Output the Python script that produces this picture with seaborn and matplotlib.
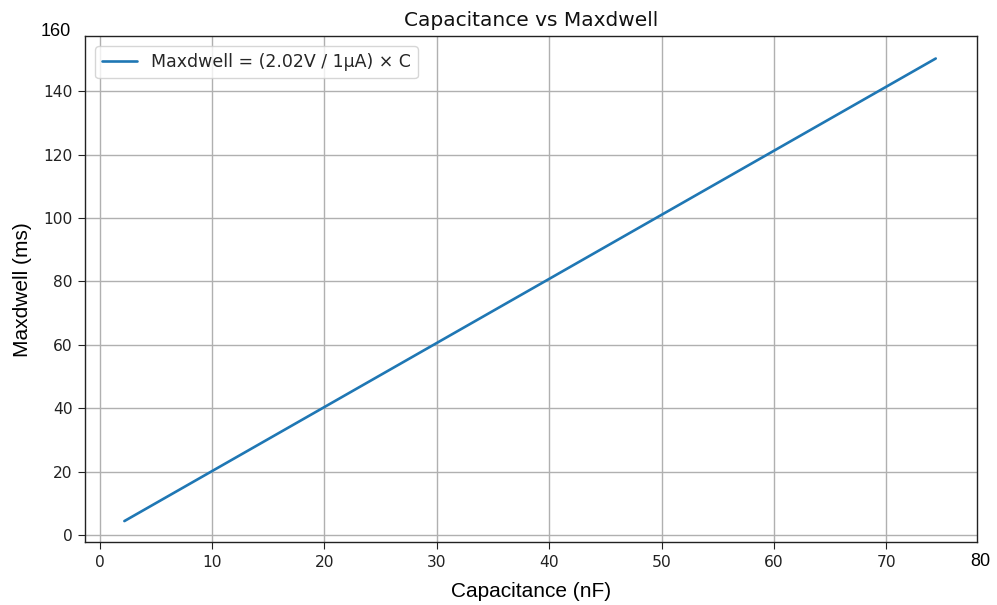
import pandas as pd
import matplotlib
matplotlib.use('Agg')
import matplotlib.pyplot as plt
import seaborn as sns

# Endpoints of the Maxdwell = 2.02 * C line
capacitance_nf = [2.2, 74.4]
maxdwell_ms = [4.4, 150.3]
line_label = 'Maxdwell = (2.02V / 1\u00b5A) \u00d7 C'

df = pd.DataFrame({'Capacitance (nF)': capacitance_nf, 'Maxdwell (ms)': maxdwell_ms})

sns.set_style('ticks')
plt.rcParams['font.family'] = ['DejaVu Sans']

fig = plt.figure(figsize=(9.97, 6.05), dpi=100)
ax = fig.add_axes([0.0853, 0.1036, 0.8944, 0.8369])

sns.lineplot(data=df, x='Capacitance (nF)', y='Maxdwell (ms)', ax=ax,
             color='#1f77b4', linewidth=1.9, label=line_label)

ax.set_xlim(-1.3, 78.05)
ax.set_ylim(-2.3, 157.4)
ax.set_xticks([0, 10, 20, 30, 40, 50, 60, 70])
ax.set_yticks([0, 20, 40, 60, 80, 100, 120, 140])
ax.tick_params(labelsize=11.2, colors='#222222', length=5, pad=4)
ax.grid(True, color='#b0b0b0', linewidth=1.0)
for s in ax.spines.values():
    s.set_color('#222222')
    s.set_linewidth(1.0)

ax.set_title('Capacitance vs Maxdwell', fontsize=14.5, color='#111111', pad=7)
ax.set_xlabel('Capacitance (nF)', fontsize=15, family='Liberation Sans',
              color='black', labelpad=9)
ax.set_ylabel('Maxdwell (ms)', fontsize=15, family='Liberation Sans',
              color='black', labelpad=8)

# end labels drawn in a different font in the original
ax.text(-0.016, 1.008, '160', transform=ax.transAxes, ha='right', va='center',
        fontsize=13, family='Liberation Sans', color='black')
ax.text(1.004, -0.038, '80', transform=ax.transAxes, ha='center', va='center',
        fontsize=13, family='Liberation Sans', color='black')

ax.legend(loc='upper left', fontsize=12.5, frameon=True, framealpha=0.8,
          edgecolor='#cccccc', fancybox=True, borderaxespad=0.6)

fig.savefig('out.png', dpi=100)
